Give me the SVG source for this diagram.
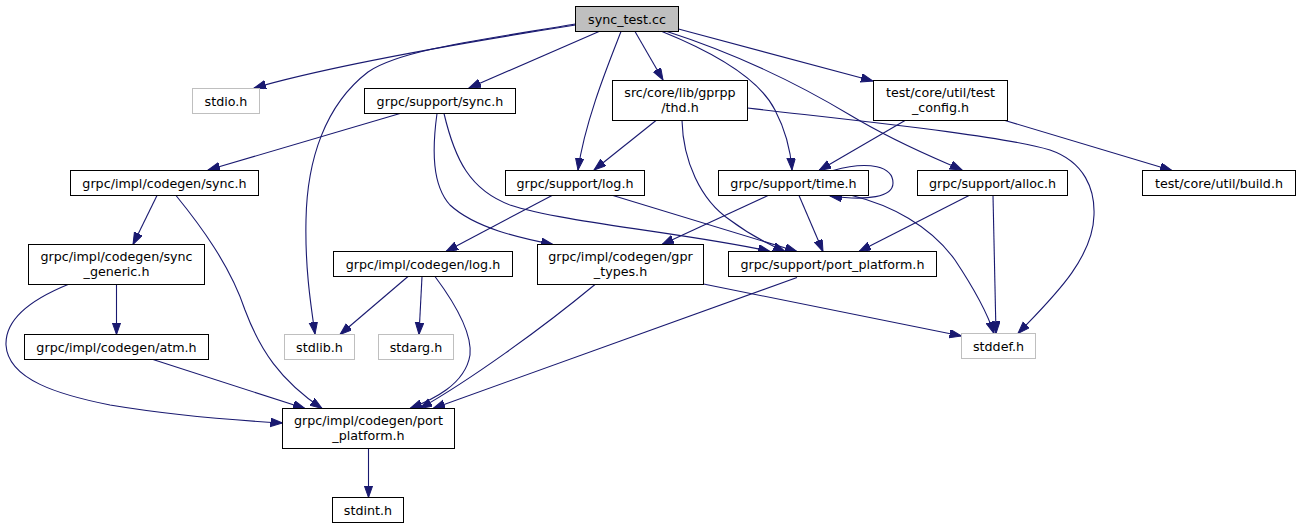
<svg xmlns="http://www.w3.org/2000/svg" width="1301" height="529" viewBox="0 0 1301 529">
<defs>
<style>
.n rect{fill:#fff;stroke:#000;stroke-width:1}
.n.g rect{stroke:#bfbfbf}
.n.root rect{fill:#bfbfbf}
.n text{font-family:"DejaVu Sans","Liberation Sans",sans-serif;font-size:12.7px;text-anchor:middle;fill:#000}
#edges path{fill:none;stroke:#191970;stroke-width:1.1;marker-end:url(#ah)}
</style>
<marker id="ah" markerUnits="userSpaceOnUse" markerWidth="13" markerHeight="10" refX="12" refY="4.25" orient="auto">
<path d="M0,0 L12,4.25 L0,8.5 z" fill="#191970" stroke="#191970" stroke-width="1"/>
</marker>
</defs>
<rect width="1301" height="529" fill="#fff"/>
<g id="edges">
<path d="M575.5,25 C480,40 340,63 254,88"/>
<path d="M575.5,24 C480,40 400,50 368,72 C325,105 307,160 306,220 C305,265 310,300 315,334"/>
<path d="M599,31.5 L469,88"/>
<path d="M621,31.5 C610,60 585,120 578,170"/>
<path d="M635,31.5 L663,80"/>
<path d="M662,31.5 C720,55 760,80 775,110 C788,135 791,155 792,170"/>
<path d="M667,31.5 C740,55 800,85 850,115 C900,145 940,160 962,170"/>
<path d="M678.5,29 L873,81"/>
<path d="M400,113.5 L208,170"/>
<path d="M437,113.5 C432,150 432,185 450,205 C475,228 520,238 553,244.5"/>
<path d="M444,113.5 C455,160 470,190 510,205 C560,222 700,235 770,251.5"/>
<path d="M552,195.5 L446,251.5"/>
<path d="M613,195.5 L797,251.5"/>
<path d="M656,120.5 L594,170"/>
<path d="M682,120.5 C683,160 700,200 730,220 C750,235 770,245 785,251.5"/>
<path d="M747.5,108 C850,120 1000,135 1050,150 C1085,162 1095,190 1094,215 C1093,260 1050,300 1018,333.5"/>
<path d="M833,170.5 C870,160 893,167 893,183 C893,197 868,201 830,196"/>
<path d="M768,195.5 L662,244.5"/>
<path d="M799,195.5 L823,251.5"/>
<path d="M852,195.5 C890,205 930,225 955,260 C975,290 988,315 994,333.5"/>
<path d="M969,195.5 L859,251.5"/>
<path d="M993,195.5 L996,333.5"/>
<path d="M905,120.5 L819,170.5"/>
<path d="M1005,120.5 L1172,170.5"/>
<path d="M703.5,284 L961.5,336"/>
<path d="M797,277.5 L433,408.5"/>
<path d="M157,195.5 L133,244.5"/>
<path d="M176,195.5 C200,225 230,265 245,310 C260,350 280,380 322,408.5"/>
<path d="M116.5,284.5 L116.5,334.5"/>
<path d="M68,284.5 C30,300 5,320 6,345 C8,380 60,395 110,405 C170,415 230,420 282.5,423"/>
<path d="M153,359.5 L305,408.5"/>
<path d="M408,276.5 L340,334.5"/>
<path d="M422,276.5 L419,334.5"/>
<path d="M435,276.5 C460,310 472,335 470,355 C465,385 432,400 410,408.5"/>
<path d="M595,284.5 C540,330 470,380 420,408.5"/>
<path d="M368.5,448.5 L368.5,497.5"/>
</g>
<g id="n_sync_test" class="n root"><rect x="575.5" y="6.5" width="103" height="25"/><text x="627" y="23.5">sync_test.cc</text></g>
<g id="n_stdio" class="n g"><rect x="192.5" y="88.5" width="67" height="25"/><text x="226" y="105.5">stdio.h</text></g>
<g id="n_support_sync" class="n"><rect x="364.5" y="88.5" width="151" height="25"/><text x="440" y="105.5">grpc/support/sync.h</text></g>
<g id="n_thd" class="n"><rect x="612.5" y="80.5" width="135" height="40"/><text x="680" y="97">src/core/lib/gprpp</text><text x="680" y="112">/thd.h</text></g>
<g id="n_test_config" class="n"><rect x="873.5" y="80.5" width="134" height="40"/><text x="940.5" y="97">test/core/util/test</text><text x="940.5" y="112">_config.h</text></g>
<g id="n_codegen_sync" class="n"><rect x="70.5" y="170.5" width="188" height="25"/><text x="164.5" y="187.5">grpc/impl/codegen/sync.h</text></g>
<g id="n_support_log" class="n"><rect x="505.5" y="170.5" width="139" height="25"/><text x="575" y="187.5">grpc/support/log.h</text></g>
<g id="n_time" class="n"><rect x="718.5" y="170.5" width="150" height="25"/><text x="793.5" y="187.5">grpc/support/time.h</text></g>
<g id="n_alloc" class="n"><rect x="917.5" y="170.5" width="150" height="25"/><text x="992.5" y="187.5">grpc/support/alloc.h</text></g>
<g id="n_build" class="n"><rect x="1142.5" y="170.5" width="153" height="25"/><text x="1219" y="187.5">test/core/util/build.h</text></g>
<g id="n_sync_generic" class="n"><rect x="28.5" y="244.5" width="176" height="40"/><text x="116.5" y="261">grpc/impl/codegen/sync</text><text x="116.5" y="276">_generic.h</text></g>
<g id="n_codegen_log" class="n"><rect x="333.5" y="251.5" width="179" height="25"/><text x="423" y="268.5">grpc/impl/codegen/log.h</text></g>
<g id="n_gpr_types" class="n"><rect x="537.5" y="244.5" width="166" height="40"/><text x="620.5" y="261">grpc/impl/codegen/gpr</text><text x="620.5" y="276">_types.h</text></g>
<g id="n_support_port_platform" class="n"><rect x="728.5" y="251.5" width="208" height="25"/><text x="832.5" y="268.5">grpc/support/port_platform.h</text></g>
<g id="n_atm" class="n"><rect x="24.5" y="334.5" width="184" height="25"/><text x="116.5" y="351.5">grpc/impl/codegen/atm.h</text></g>
<g id="n_stdlib" class="n g"><rect x="284.5" y="334.5" width="70" height="25"/><text x="319.5" y="351.5">stdlib.h</text></g>
<g id="n_stdarg" class="n g"><rect x="378.5" y="334.5" width="75" height="25"/><text x="416" y="351.5">stdarg.h</text></g>
<g id="n_stddef" class="n g"><rect x="961.5" y="333.5" width="74" height="25"/><text x="998.5" y="350.5">stddef.h</text></g>
<g id="n_codegen_port_platform" class="n"><rect x="282.5" y="408.5" width="172" height="40"/><text x="368.5" y="425">grpc/impl/codegen/port</text><text x="368.5" y="440">_platform.h</text></g>
<g id="n_stdint" class="n"><rect x="332.5" y="497.5" width="71" height="25"/><text x="368" y="514.5">stdint.h</text></g>
</svg>
